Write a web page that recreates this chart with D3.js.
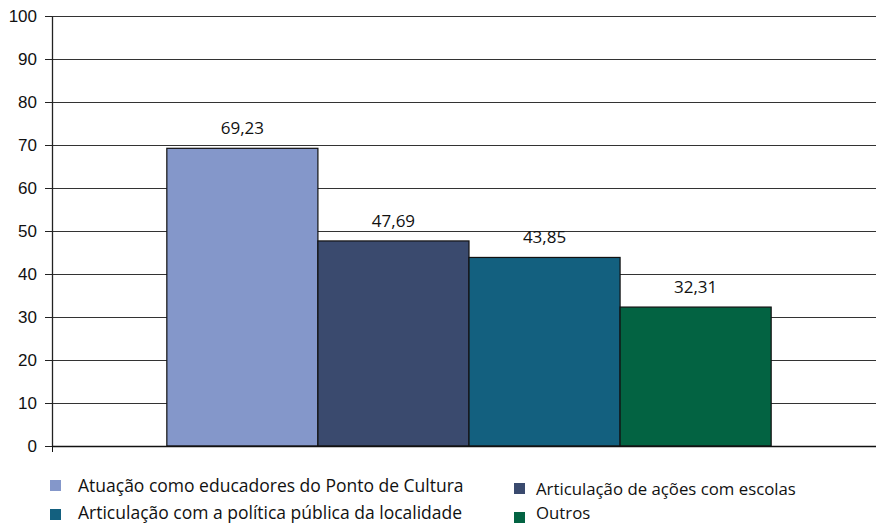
<!DOCTYPE html>
<meta charset="utf-8">
<style>
body { margin: 0; background: #fff; }
svg { font-family: "Open Sans", sans-serif; }
.grid line { stroke: #333; stroke-width: 1px; }
.axis path, .axis line { stroke: #222; }
.axis text { font-size: 17px; fill: #111; }
.val { font-size: 17px; fill: #111; text-anchor: middle; }
.legend text { font-size: 17.5px; fill: #111; }
</style>
<svg width="876" height="523"></svg>
<script src="https://d3js.org/d3.v7.min.js"></script>
<script>
var series = ["Atuação como educadores do Ponto de Cultura", "Articulação de ações com escolas",
              "Articulação com a política pública da localidade", "Outros"];
var values = [69.23, 47.69, 43.85, 32.31];
var colors = ["#8497ca", "#3a4a6e", "#13607f", "#036342"];
var yTicks = [0, 10, 20, 30, 40, 50, 60, 70, 80, 90, 100];

var svg = d3.select("svg"),
    margin = {top: 16, right: -10, bottom: 77, left: 52},
    width = svg.attr("width") - margin.left - margin.right,
    height = svg.attr("height") - margin.top - margin.bottom,
    g = svg.append("g").attr("transform", "translate(" + margin.left + "," + margin.top + ")");

var y = d3.scaleLinear().domain([0, 100]).range([height, 0]);
var x0 = d3.scaleBand().domain(["g"]).range([0, width]).paddingOuter(0.19);
var x1 = d3.scaleBand().domain(series).range([0, x0.bandwidth()]);

// gridlines
g.append("g").attr("class", "grid")
  .selectAll("line").data(yTicks.slice(1)).enter().append("line")
    .attr("x1", 0).attr("x2", width)
    .attr("y1", function(d) { return Math.round(y(d)) + 0.5; })
    .attr("y2", function(d) { return Math.round(y(d)) + 0.5; });

var bars = g.append("g").attr("transform", "translate(" + x0("g") + ",0)");
bars.selectAll("rect").data(values).enter().append("rect")
    .attr("x", function(d, i) { return x1(series[i]); })
    .attr("y", function(d) { return y(d); })
    .attr("width", x1.bandwidth())
    .attr("height", function(d) { return height - y(d); })
    .attr("fill", function(d, i) { return colors[i]; })
    .attr("stroke", "#111").attr("stroke-width", 1.2);

bars.selectAll("text").data(values).enter().append("text")
    .attr("class", "val")
    .attr("x", function(d, i) { return x1(series[i]) + x1.bandwidth() / 2; })
    .attr("y", function(d) { return y(d) - 14; })
    .text(function(d) { return d3.format(".2f")(d).replace(".", ","); });

// axes
g.append("g").attr("class", "axis")
    .call(d3.axisLeft(y).tickValues(yTicks).tickSize(7).tickPadding(8).tickSizeOuter(0))
    .call(function(a) { a.select(".domain").attr("stroke-width", 1.3); });

g.append("line").attr("x1", 0).attr("x2", width)
    .attr("y1", height + 0.5).attr("y2", height + 0.5)
    .attr("stroke", "#111").attr("stroke-width", 1.6);
g.append("line").attr("x1", 0.5).attr("x2", 0.5)
    .attr("y1", height).attr("y2", height + 6)
    .attr("stroke", "#111");

// legend
var legPos = [[50, 480, 78, 492], [514, 483, 536, 495], [50, 509, 78, 519], [514, 512, 536, 519]];
var leg = svg.append("g").attr("class", "legend");
series.forEach(function(s, i) {
  var p = legPos[i];
  leg.append("rect").attr("x", p[0]).attr("y", p[1]).attr("width", 11).attr("height", 11).attr("fill", colors[i]);
  leg.append("text").attr("x", p[2]).attr("y", p[3])
      .style("font-size", i % 2 ? "16.8px" : null).text(s);
});
</script>
